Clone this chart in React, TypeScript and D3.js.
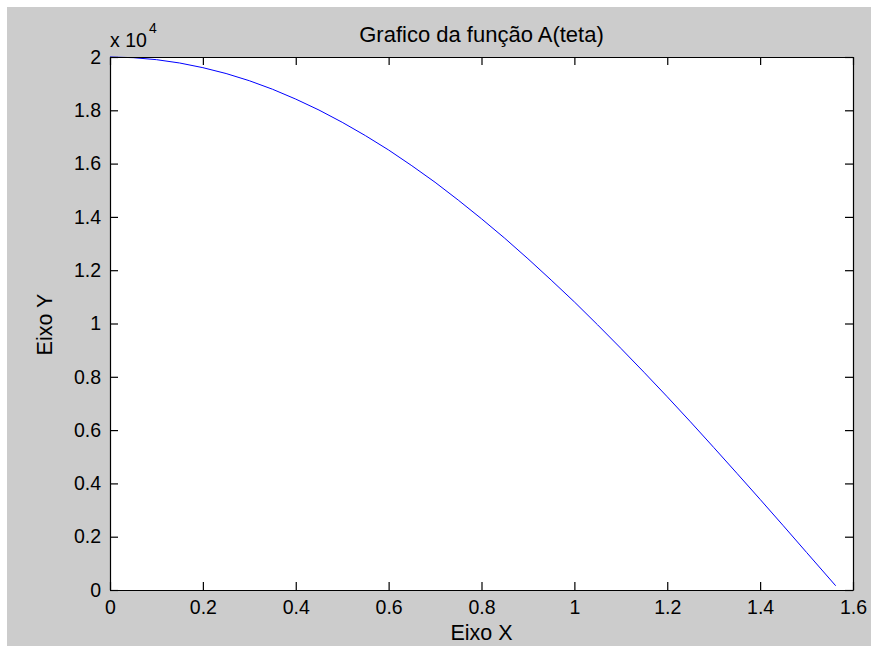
import React from "react";
import * as d3 from "d3";

// teta values (rad) and A(teta)
const tetaValues = [
  0, 0.05, 0.1, 0.15, 0.2, 0.25, 0.3, 0.35, 0.4, 0.45, 0.5, 0.55, 0.6, 0.65,
  0.7, 0.75, 0.8, 0.85, 0.9, 0.95, 1.0, 1.05, 1.1, 1.15, 1.2, 1.25, 1.3, 1.35,
  1.4, 1.45, 1.5, 1.5627,
];
const areaValues = [
  20000, 19975, 19900, 19775, 19600, 19380, 19110, 18790, 18420, 18010, 17550,
  17050, 16510, 15920, 15300, 14630, 13930, 13200, 12430, 11630, 10810, 9950,
  9070, 8170, 7250, 6310, 5350, 4380, 3400, 2410, 1410, 160,
];
const xTicks = [0, 0.2, 0.4, 0.6, 0.8, 1, 1.2, 1.4, 1.6];
const yTicks = [0, 2000, 4000, 6000, 8000, 10000, 12000, 14000, 16000, 18000, 20000];

const App = () => {
  const svgRef = React.useRef(null);
  const width = 871;
  const height = 646;
  const margin = { top: 57, right: 18, bottom: 56, left: 110 };
  const font = "'Liberation Sans', Arial, sans-serif";

  React.useEffect(() => {
    const svg = d3.select(svgRef.current);
    svg.selectAll("*").remove();

    const x = d3
      .scaleLinear()
      .domain([0, 1.6])
      .range([margin.left, width - margin.right]);
    const y = d3
      .scaleLinear()
      .domain([0, 20000])
      .range([height - margin.bottom, margin.top]);

    svg.append("rect").attr("width", width).attr("height", height).attr("fill", "#fff");
    svg
      .append("rect")
      .attr("x", 7)
      .attr("y", 7)
      .attr("width", width - 7)
      .attr("height", height - 7)
      .attr("fill", "#cccccc");
    svg
      .append("rect")
      .attr("x", x(0))
      .attr("y", y(20000))
      .attr("width", x(1.6) - x(0))
      .attr("height", y(0) - y(20000))
      .attr("fill", "#fff");

    const data = tetaValues.map((t, i) => [t, areaValues[i]]);
    const line = d3
      .line()
      .x((d) => x(d[0]))
      .y((d) => y(d[1]));
    svg
      .append("path")
      .datum(data)
      .attr("d", line)
      .attr("fill", "none")
      .attr("stroke", "#0000ff")
      .attr("stroke-width", 1);

    const fmtY = (d) => d3.format("~g")(d / 10000);
    const fmtX = (d) => d3.format("~g")(d);

    // axes with inward ticks, box on all four sides
    svg
      .append("g")
      .attr("transform", `translate(0,${y(0)})`)
      .call(d3.axisBottom(x).tickValues(xTicks).tickSizeInner(-8).tickSizeOuter(0).tickPadding(10).tickFormat(fmtX));
    svg
      .append("g")
      .attr("transform", `translate(0,${y(20000)})`)
      .call(d3.axisTop(x).tickValues(xTicks).tickSizeInner(-8).tickSizeOuter(0).tickFormat(() => ""));
    svg
      .append("g")
      .attr("transform", `translate(${x(0)},0)`)
      .call(d3.axisLeft(y).tickValues(yTicks).tickSizeInner(-8).tickSizeOuter(0).tickPadding(9).tickFormat(fmtY));
    svg
      .append("g")
      .attr("transform", `translate(${x(1.6)},0)`)
      .call(d3.axisRight(y).tickValues(yTicks).tickSizeInner(-8).tickSizeOuter(0).tickFormat(() => ""));

    svg.selectAll(".domain").attr("stroke", "#000").attr("stroke-width", 1.2);
    svg.selectAll(".tick line").attr("stroke", "#000").attr("stroke-width", 1.2);
    svg
      .selectAll(".tick text")
      .attr("fill", "#000")
      .style("font-family", font)
      .style("font-size", "19.5px");

    svg
      .append("text")
      .attr("x", x(0))
      .attr("y", 47)
      .style("font-family", font)
      .style("font-size", "19.5px")
      .text("x 10");
    svg
      .append("text")
      .attr("x", 149)
      .attr("y", 33)
      .style("font-family", font)
      .style("font-size", "14px")
      .text("4");

    svg
      .append("text")
      .attr("x", (x(0) + x(1.6)) / 2)
      .attr("y", 42)
      .attr("text-anchor", "middle")
      .style("font-family", font)
      .style("font-size", "22px")
      .text("Grafico da função A(teta)");
    svg
      .append("text")
      .attr("x", (x(0) + x(1.6)) / 2)
      .attr("y", 640)
      .attr("text-anchor", "middle")
      .style("font-family", font)
      .style("font-size", "21.5px")
      .text("Eixo X");
    svg
      .append("text")
      .attr("transform", `translate(52,${(y(0) + y(20000)) / 2 + 1}) rotate(-90)`)
      .attr("text-anchor", "middle")
      .style("font-family", font)
      .style("font-size", "21.5px")
      .text("Eixo Y");
  }, []);

  return (
    <svg
      ref={svgRef}
      width={width}
      height={height}
      style={{ position: "absolute", left: 0, top: 0, display: "block" }}
    />
  );
};

export default App;
